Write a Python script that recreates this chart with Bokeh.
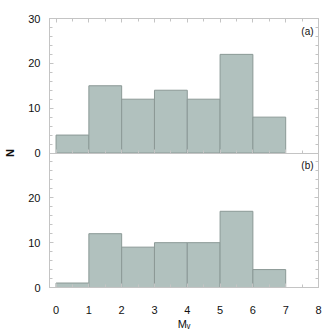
import math
from bokeh.plotting import figure
from bokeh.models import LinearAxis, FixedTicker, Range1d, Label, CustomJSTickFormatter
from bokeh.embed import file_html
from bokeh.resources import INLINE

# data
bin_edges = [0, 1, 2, 3, 4, 5, 6, 7]
counts_a = [4, 15, 12, 14, 12, 22, 8]
counts_b = [1, 12, 9, 10, 10, 17, 4]
x_ticks = [0, 1, 2, 3, 4, 5, 6, 7, 8]
y_ticks_a = [0, 10, 20, 30]
y_ticks_b = [0, 10, 20]
PANEL = 30  # height of each panel in counts

X0, X1 = -0.2, 8
FILL = "#b1c1be"
EDGE = "#8b9996"
AX = "#c4c4c4"
FONT = "Liberation Sans"
TXT = "#111111"

p = figure(width=326, height=333, output_backend="svg", toolbar_location=None,
           x_axis_type=None, y_axis_type=None,
           x_range=Range1d(X0, X1), y_range=Range1d(0, 2 * PANEL),
           min_border_left=49, min_border_right=8, min_border_top=18, min_border_bottom=46)
p.extra_y_ranges = {"top": Range1d(-PANEL, PANEL)}
p.outline_line_color = AX
p.background_fill_color = "white"
p.border_fill_color = "white"

# bars
p.quad(left=bin_edges[:-1], right=bin_edges[1:], bottom=0, top=counts_a,
       fill_color=FILL, line_color=EDGE, line_width=1, y_range_name="top")
p.quad(left=bin_edges[:-1], right=bin_edges[1:], bottom=0, top=counts_b,
       fill_color=FILL, line_color=EDGE, line_width=1)

blank = CustomJSTickFormatter(code="return ''")
x_minor = [t + 0.5 for t in x_ticks[:-1]]
y_major = y_ticks_b + [PANEL + t for t in y_ticks_a]
y_minor = [v for v in range(0, 2 * PANEL + 1, 2) if v not in y_major]
y_overrides = {PANEL + t: str(t) for t in y_ticks_a}


def style(ax, labels=True):
    ax.axis_line_color = AX
    ax.major_tick_line_color = AX
    ax.minor_tick_line_color = AX
    ax.major_tick_in = 4
    ax.major_tick_out = 0
    ax.minor_tick_in = 3
    ax.minor_tick_out = 0
    ax.major_label_text_font = FONT
    ax.major_label_text_font_size = "11px"
    ax.major_label_text_color = TXT
    ax.axis_label_text_font = FONT
    ax.axis_label_text_color = TXT
    ax.axis_label_text_font_size = "11px"
    ax.axis_label_text_font_style = "normal"
    if not labels:
        ax.formatter = blank


# left axis (labelled) and right axis (ticks only)
left = LinearAxis(ticker=FixedTicker(ticks=y_major, minor_ticks=y_minor))
style(left)
left.major_label_overrides = y_overrides
left.major_label_standoff = 9
left.axis_label = "N"
left.axis_label_text_font_style = "bold"
left.axis_label_standoff = 9
p.add_layout(left, "left")

right = LinearAxis(ticker=FixedTicker(ticks=y_major, minor_ticks=y_minor))
style(right, False)
p.add_layout(right, "right")

# top frame ticks
top = LinearAxis(ticker=FixedTicker(ticks=x_ticks, minor_ticks=x_minor))
style(top, False)
p.add_layout(top, "above")

# separator between the two panels
mid = LinearAxis(ticker=FixedTicker(ticks=x_ticks, minor_ticks=x_minor))
style(mid, False)
mid.fixed_location = PANEL
p.add_layout(mid, "below")

# bottom axis with labels
bottom = LinearAxis(ticker=FixedTicker(ticks=x_ticks, minor_ticks=x_minor))
style(bottom)
bottom.major_label_standoff = 18
bottom.axis_label = "M\u1d65"
bottom.axis_label_standoff = 1
p.add_layout(bottom, "below")

# panel tags
p.add_layout(Label(x=7.85, y=27.2, y_range_name="top", text="(a)", text_align="right",
                   text_baseline="middle", text_font=FONT, text_font_size="10px",
                   text_color=TXT))
p.add_layout(Label(x=7.85, y=27.2, text="(b)", text_align="right",
                   text_baseline="middle", text_font=FONT, text_font_size="10px",
                   text_color=TXT))

open("out.html", "w").write(file_html(p, INLINE))
